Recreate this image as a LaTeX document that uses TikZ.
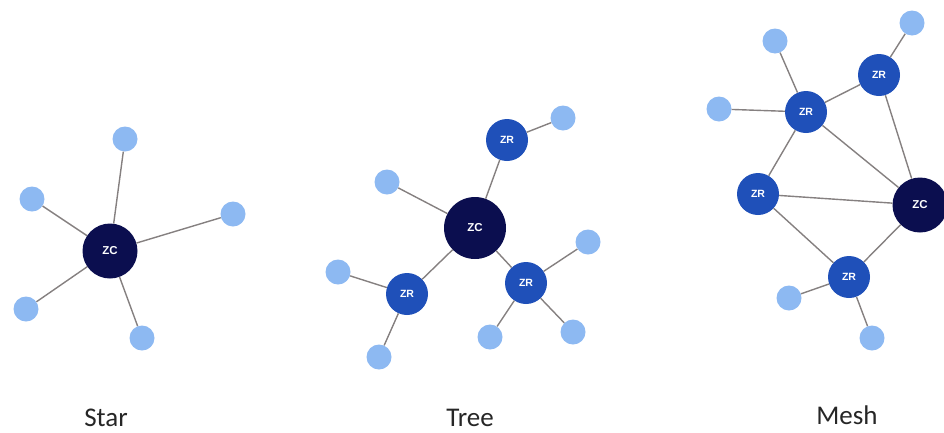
\documentclass[tikz,border=0pt]{standalone}
\usepackage{fontspec}
\setmainfont{Carlito}
\newfontfamily\nodefont{Liberation Sans}
\definecolor{zcdark}{HTML}{0B0E4F}
\definecolor{zrblue}{HTML}{1F50B9}
\definecolor{leafblue}{HTML}{8DB9F2}
\definecolor{edgegray}{HTML}{858080}
\tikzset{
  zc/.style={circle,fill=zcdark,inner sep=0pt,minimum size=55pt,text=white,font=\nodefont\bfseries\fontsize{11.5}{11.5}\selectfont},
  zcbig/.style={zc,minimum size=62pt},
  zr/.style={circle,fill=zrblue,inner sep=0pt,minimum size=42pt,text=white,font=\nodefont\bfseries\fontsize{10.5}{10.5}\selectfont},
  leaf/.style={circle,fill=leafblue,inner sep=0pt,minimum size=25pt},
  link/.style={draw=edgegray,line width=1.4pt},
  caption/.style={font=\fontsize{27}{27}\selectfont,text=black!85,anchor=base,inner sep=0pt}
}
\begin{document}
\begin{tikzpicture}[x=1pt,y=-1pt]
\useasboundingbox (0,0) rectangle (944,432);
% ---------- Star ----------
\node[leaf] (s1) at (125,139) {};
\node[leaf] (s2) at (32,199) {};
\node[leaf] (s3) at (233,214) {};
\node[leaf] (s4) at (26,309) {};
\node[leaf] (s5) at (142,338) {};
\node[zc] (sc) at (110,251) {ZC};
% ---------- Tree ----------
\node[leaf] (t1) at (563,118) {};
\node[leaf] (t2) at (387,182) {};
\node[leaf] (t3) at (338,272) {};
\node[leaf] (t4) at (379,357) {};
\node[leaf] (t5) at (588,242) {};
\node[leaf] (t6) at (490,337) {};
\node[leaf] (t7) at (573,332) {};
\node[zcbig] (tc) at (475,228) {ZC};
\node[zr] (tr1) at (507,140) {ZR};
\node[zr] (tr2) at (407,294) {ZR};
\node[zr] (tr3) at (526,283) {ZR};
% ---------- Mesh ----------
\node[leaf] (m1) at (912,23) {};
\node[leaf] (m2) at (775,41) {};
\node[leaf] (m3) at (719,109) {};
\node[leaf] (m4) at (789,298) {};
\node[leaf] (m5) at (872,338) {};
\node[zc] (mc) at (920,205) {ZC};
\node[zr] (mr1) at (806,112) {ZR};
\node[zr] (mr2) at (879,75) {ZR};
\node[zr] (mr3) at (758,194) {ZR};
\node[zr] (mr4) at (849,277) {ZR};
% ---------- links ----------
\foreach \a/\b in {sc/s1,sc/s2,sc/s3,sc/s4,sc/s5,
  tc/tr1,tc/tr2,tc/tr3,tc/t2,tr1/t1,tr2/t3,tr2/t4,tr3/t5,tr3/t6,tr3/t7,
  mr1/mr2,mr1/mc,mr2/mc,mr1/mr3,mr3/mc,mr3/mr4,mr4/mc,mr1/m2,mr1/m3,mr2/m1,mr4/m4,mr4/m5}
  \path[link] (\a) -- (\b);
% ---------- captions ----------
\node[caption] (cs) at (106,426) {Star};
\node[caption] (ct) at (470,426) {Tree};
\node[caption] (cm) at (847,424) {Mesh};
\end{tikzpicture}
\end{document}
